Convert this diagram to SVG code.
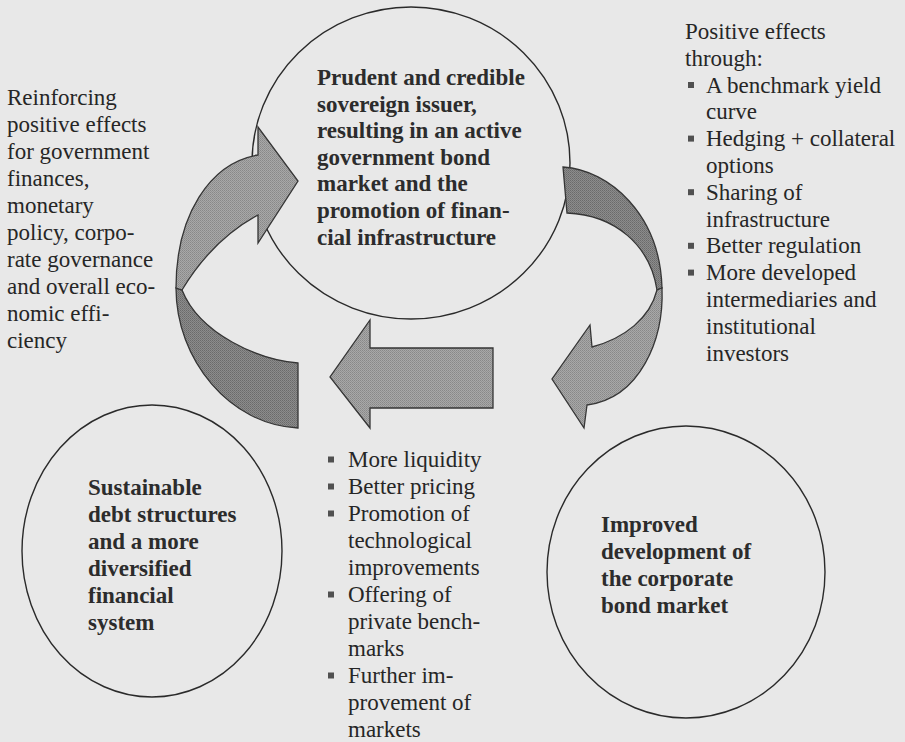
<svg xmlns="http://www.w3.org/2000/svg" width="905" height="742" viewBox="0 0 905 742">
  <defs>
    <!-- fine halftone grain for the arrow faces -->
    <pattern id="shadeFront" width="2" height="2" patternUnits="userSpaceOnUse">
      <rect width="2" height="2" fill="#a8a8a8"/>
      <rect width="1" height="1" fill="#888888"/>
      <rect x="1" y="1" width="1" height="1" fill="#929292"/>
    </pattern>
    <pattern id="shadeBack" width="2" height="2" patternUnits="userSpaceOnUse">
      <rect width="2" height="2" fill="#8c8c8c"/>
      <rect width="1" height="1" fill="#6a6a6a"/>
      <rect x="1" y="1" width="1" height="1" fill="#767676"/>
    </pattern>
  </defs>
  <style>
    .txt { font-family: "Liberation Serif", "Times New Roman", serif; font-size: 23px; fill: #262626; }
    .bold { font-weight: bold; fill: #2c2c2c; }
    .ring { fill: none; stroke: #2a2a2a; stroke-width: 1.4; }
    .front { fill: url(#shadeFront); stroke: #353535; stroke-width: 1.3; stroke-linejoin: miter; }
    .back { fill: url(#shadeBack); stroke: #353535; stroke-width: 1.3; stroke-linejoin: miter; }
    .bullet { fill: #505050; }
  </style>

  <!-- paper -->
  <rect width="905" height="742" fill="#e8e8e8"/>

  <!-- cycle nodes -->
  <g id="node-sovereign-issuer">
    <ellipse class="ring" cx="411" cy="163" rx="159" ry="156"/>
    <text class="txt bold">
      <tspan x="317" y="85">Prudent and credible</tspan>
      <tspan x="317" y="111.6">sovereign issuer,</tspan>
      <tspan x="317" y="138.2">resulting in an active</tspan>
      <tspan x="317" y="164.8">government bond</tspan>
      <tspan x="317" y="191.4">market and the</tspan>
      <tspan x="317" y="218">promotion of finan-</tspan>
      <tspan x="317" y="244.6">cial infrastructure</tspan>
    </text>
  </g>

  <g id="node-corporate-bond-market">
    <ellipse class="ring" cx="686" cy="572" rx="139" ry="146"/>
    <text class="txt bold">
      <tspan x="601" y="532">Improved</tspan>
      <tspan x="601" y="559">development of</tspan>
      <tspan x="601" y="586">the corporate</tspan>
      <tspan x="601" y="613">bond market</tspan>
    </text>
  </g>

  <g id="node-debt-structures">
    <ellipse class="ring" cx="152" cy="551" rx="130" ry="146"/>
    <text class="txt bold">
      <tspan x="88" y="495">Sustainable</tspan>
      <tspan x="88" y="522">debt structures</tspan>
      <tspan x="88" y="549">and a more</tspan>
      <tspan x="88" y="576">diversified</tspan>
      <tspan x="88" y="603">financial</tspan>
      <tspan x="88" y="630">system</tspan>
    </text>
  </g>

  <!-- side notes -->
  <g id="note-reinforcing">
    <text class="txt">
      <tspan x="7" y="105">Reinforcing</tspan>
      <tspan x="7" y="132">positive effects</tspan>
      <tspan x="7" y="159">for government</tspan>
      <tspan x="7" y="186">finances,</tspan>
      <tspan x="7" y="213">monetary</tspan>
      <tspan x="7" y="240">policy, corpo-</tspan>
      <tspan x="7" y="267">rate governance</tspan>
      <tspan x="7" y="294">and overall eco-</tspan>
      <tspan x="7" y="321">nomic effi-</tspan>
      <tspan x="7" y="348">ciency</tspan>
    </text>
  </g>

  <g id="note-positive-effects">
    <text class="txt">
      <tspan x="685" y="39">Positive effects</tspan>
      <tspan x="685" y="65.8">through:</tspan>
      <tspan x="706" y="92.6">A benchmark yield</tspan>
      <tspan x="706" y="119.4">curve</tspan>
      <tspan x="706" y="146.2">Hedging + collateral</tspan>
      <tspan x="706" y="173">options</tspan>
      <tspan x="706" y="199.8">Sharing of</tspan>
      <tspan x="706" y="226.6">infrastructure</tspan>
      <tspan x="706" y="253.4">Better regulation</tspan>
      <tspan x="706" y="280.2">More developed</tspan>
      <tspan x="706" y="307">intermediaries and</tspan>
      <tspan x="706" y="333.8">institutional</tspan>
      <tspan x="706" y="360.6">investors</tspan>
    </text>
    <rect class="bullet" x="688" y="82" width="6" height="6"/>
    <rect class="bullet" x="688" y="135.6" width="6" height="6"/>
    <rect class="bullet" x="688" y="189.2" width="6" height="6"/>
    <rect class="bullet" x="688" y="242.8" width="6" height="6"/>
    <rect class="bullet" x="688" y="269.6" width="6" height="6"/>
  </g>

  <g id="note-market-effects">
    <text class="txt">
      <tspan x="348" y="467">More liquidity</tspan>
      <tspan x="348" y="494">Better pricing</tspan>
      <tspan x="348" y="521">Promotion of</tspan>
      <tspan x="348" y="548">technological</tspan>
      <tspan x="348" y="575">improvements</tspan>
      <tspan x="348" y="602">Offering of</tspan>
      <tspan x="348" y="629">private bench-</tspan>
      <tspan x="348" y="656">marks</tspan>
      <tspan x="348" y="683">Further im-</tspan>
      <tspan x="348" y="710">provement of</tspan>
      <tspan x="348" y="737">markets</tspan>
    </text>
    <rect class="bullet" x="328" y="456.5" width="6" height="6"/>
    <rect class="bullet" x="328" y="483.5" width="6" height="6"/>
    <rect class="bullet" x="328" y="510.5" width="6" height="6"/>
    <rect class="bullet" x="328" y="591.5" width="6" height="6"/>
    <rect class="bullet" x="328" y="672.5" width="6" height="6"/>
  </g>

  <!-- connectors: curved and straight block arrows -->
  <g id="connectors">
    <!-- left: rises from the debt node and turns right into the sovereign node -->
    <g id="arrow-left-curve">
      <path class="back" d="M176,288 C176,360 230,425 298,428 L298,363 C260,360 200,335 182,290 Z"/>
      <path class="front" d="M258,155 L258,127 L298,181 L258,243 L258,215 Q212,240 182,290 L176,288 C176,215 210,163 258,155 Z"/>
    </g>
    <!-- right: leaves the sovereign node and curls down-left -->
    <g id="arrow-right-curve">
      <path class="back" d="M563,167 C610,170 660,215 662,288 L657,290 C650,245 615,215 567,213 Z"/>
      <path class="front" d="M662,288 C664,340 640,398 587,405 L584,428 L552,379 L590,325 L592,347 C625,338 650,318 657,290 Z"/>
    </g>
    <!-- centre: straight arrow pointing left -->
    <path id="arrow-straight" class="front" d="M493,348 L370,348 L370,320 L330,377 L370,428 L370,408 L493,408 Z"/>
  </g>
</svg>
